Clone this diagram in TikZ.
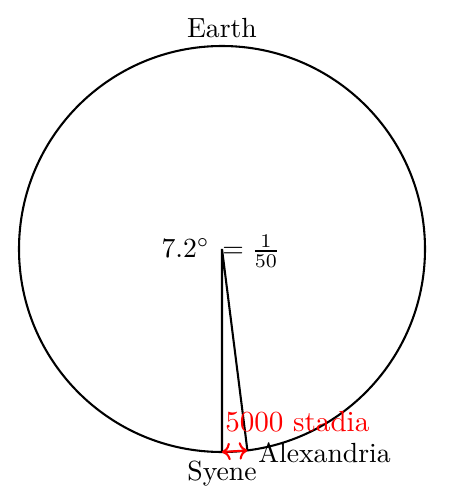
\documentclass[tikz,border=0pt]{standalone}
\usetikzlibrary{arrows.meta}
\begin{document}
\begin{tikzpicture}[x=0.361pt,y=-0.361pt,
  geo/.style={line width=0.75pt},
  dist/.style={red,line width=0.75pt,{To[length=3pt]}-{To[length=3pt]}},
  lbl/.style={inner sep=1pt}]
\useasboundingbox (0,0) rectangle (449,503);
\coordinate (O) at (222,249);
\coordinate (S) at (222,452);
\coordinate (A) at (247.4,450.4);
\draw[geo] (O) circle[radius=203];
\draw[geo] (S) -- (O) -- (A);
\draw[dist] (S) -- (A);
\node[lbl,anchor=south west,red,font=\fontsize{10.5}{12.5}\selectfont] (d) at (222,435) {5000 stadia};
\node[lbl,anchor=north] (syene) at (222,458) {Syene};
\node[lbl,anchor=west] (alex) at (255,453) {Alexandria};
\node[lbl,anchor=south] (earth) at (222,41) {Earth};
\node[lbl,anchor=east] (ang) at (213,248) {$7.2^\circ$};
\node[lbl,anchor=west] (frac) at (219,251) {$=\frac{1}{50}$};
\end{tikzpicture}
\end{document}
